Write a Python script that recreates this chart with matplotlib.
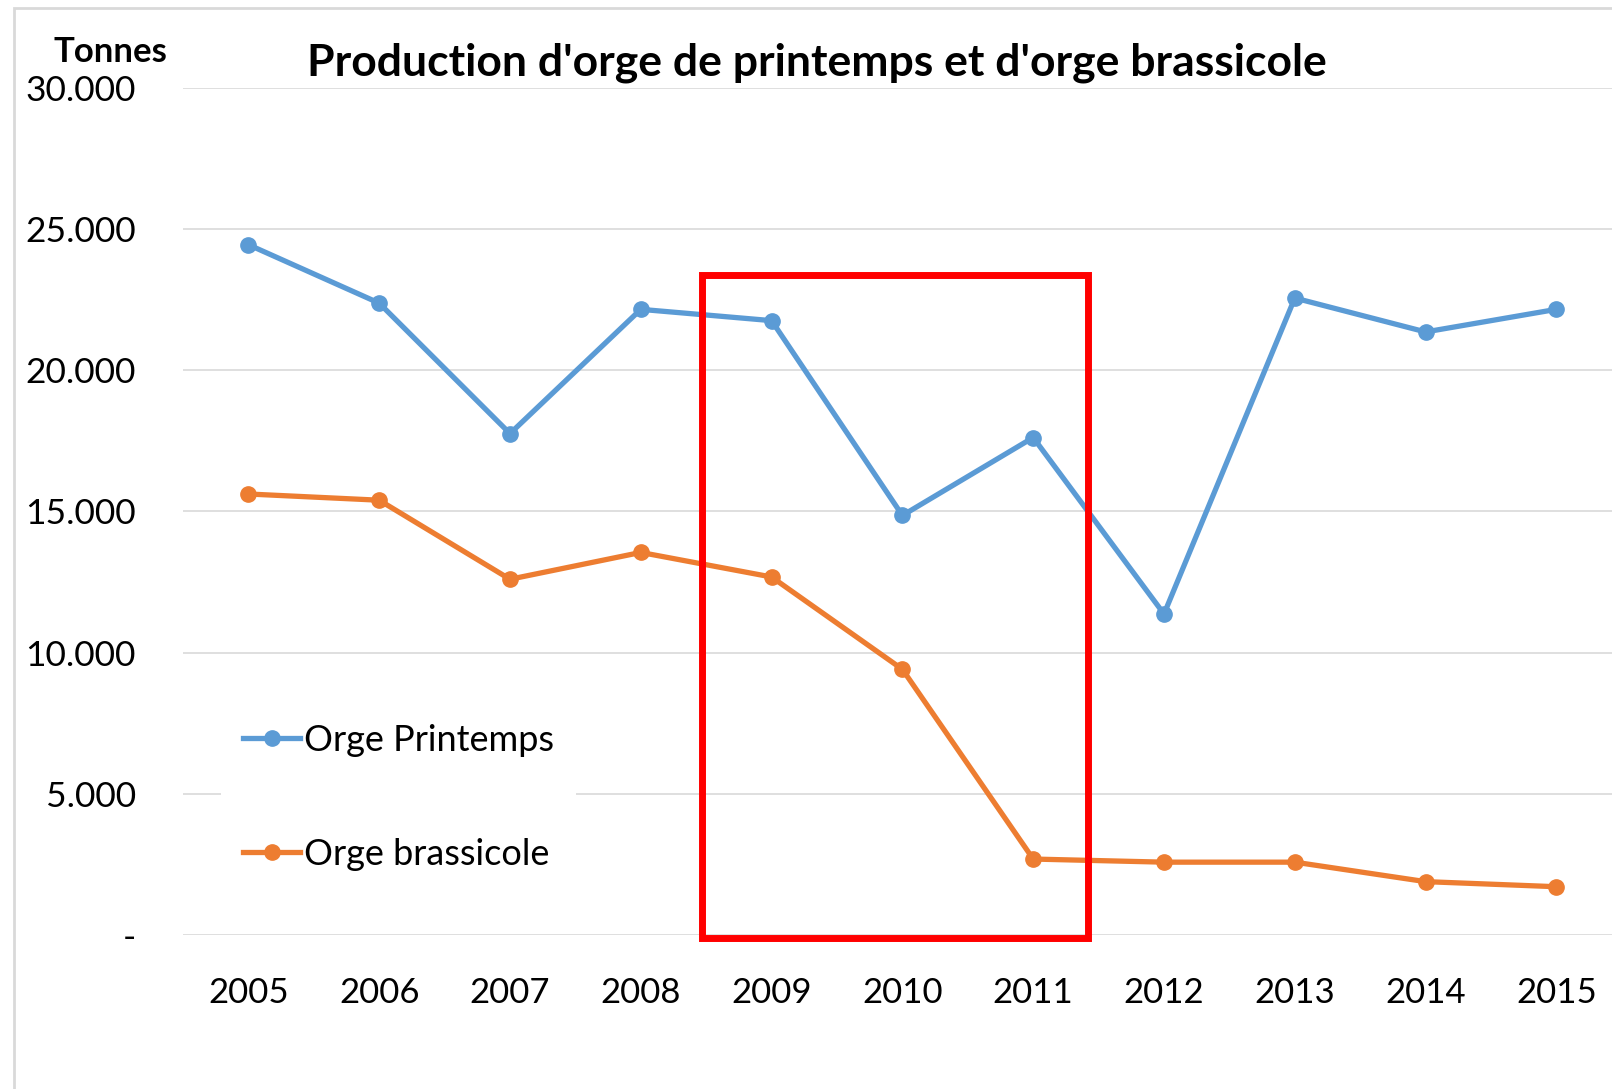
import numpy as np
import matplotlib.pyplot as plt
from matplotlib.patches import Rectangle

# data
years = [2005, 2006, 2007, 2008, 2009, 2010, 2011, 2012, 2013, 2014, 2015]
printemps = [24450, 22380, 17760, 22160, 21760, 14860, 17620, 11370, 22560, 21360, 22160]
brassicole = [15620, 15400, 12600, 13550, 12680, 9410, 2690, 2580, 2580, 1890, 1710]
yticks = [0, 5000, 10000, 15000, 20000, 25000, 30000]
ytick_labels = ['-', '5.000', '10.000', '15.000', '20.000', '25.000', '30.000']

blue = '#5B9BD5'
orange = '#ED7D31'
plt.rcParams['font.family'] = ['Lato', 'DejaVu Sans']

W, H = 1612, 1089
fig = plt.figure(figsize=(W/100, H/100), dpi=100)
ax = fig.add_axes([183/W, 1 - 935/H, (W - 183)/W, (935 - 88)/H])

ax.plot(years, printemps, '-o', color=blue, lw=3.8, ms=11, label='Orge Printemps', zorder=3)
ax.plot(years, brassicole, '-o', color=orange, lw=3.8, ms=11, label='Orge brassicole', zorder=3)

ax.set_xlim(2004.5, 2004.5 + (W - 183)/130.8)
ax.set_ylim(0, 30000)
ax.set_yticks(yticks)
ax.set_yticklabels(ytick_labels)
ax.set_xticks(years)
ax.set_xticklabels([str(y) for y in years])
ax.tick_params(axis='y', length=0, pad=34, labelsize=25.5)
ax.tick_params(axis='x', length=0, pad=30, labelsize=25)
ax.grid(axis='y', color='#D9D9D9', lw=1.2)
ax.set_axisbelow(True)
for s in ax.spines.values():
    s.set_visible(False)

# red highlight box 2009-2011
ax.add_patch(Rectangle((2008.47, -120), 2.95, 23480, fill=False, ec='#FF0000',
                       lw=5, clip_on=False, zorder=4))

leg = ax.legend(loc='upper left', bbox_to_anchor=(221/W, 1 - 702/H),
                bbox_transform=fig.transFigure, fontsize=26, frameon=True,
                facecolor='white', edgecolor='none', framealpha=1,
                handlelength=1.6, handletextpad=0.1, labelspacing=2.25,
                borderpad=0.6, borderaxespad=0)

fig.text(817/W, 1 - 63/H, "Production d'orge de printemps et d'orge brassicole",
         ha='center', va='center', fontsize=32, fontweight='bold')
fig.text(110/W, 1 - 52/H, 'Tonnes', ha='center', va='center', fontsize=25,
         fontweight='bold')

# outer chart border (left and top visible)
fig.patches.append(Rectangle((14/W, -0.05), 1.2, 1 - 8/H + 0.05, fill=False,
                             ec='#D9D9D9', lw=2, transform=fig.transFigure))

fig.savefig('out.png', dpi=100)
